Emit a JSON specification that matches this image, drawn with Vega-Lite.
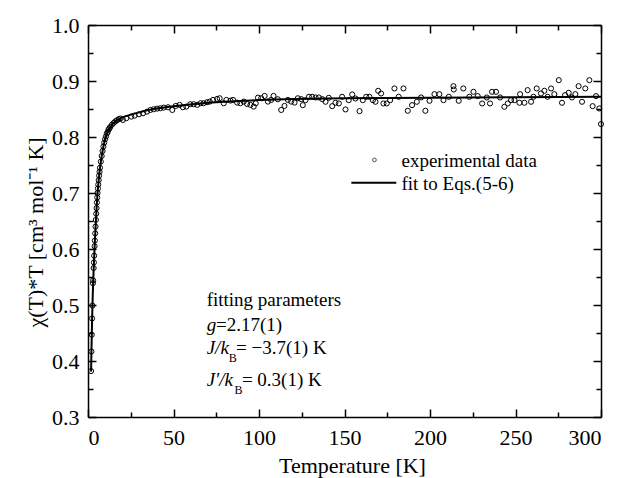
{
  "$schema": "https://vega.github.io/schema/vega-lite/v6.json",
  "width": 513,
  "height": 392,
  "autosize": {"type": "none"},
  "padding": {"left": 88, "top": 25, "right": 21, "bottom": 61},
  "background": "white",
  "config": {
    "font": "Liberation Serif",
    "view": {"stroke": null},
    "axis": {
      "grid": false,
      "domainColor": "black",
      "domainWidth": 1.5,
      "tickColor": "black",
      "tickWidth": 1.5,
      "labelFont": "Liberation Serif",
      "labelFontSize": 22,
      "labelColor": "black",
      "titleFont": "Liberation Serif",
      "titleFontSize": 22,
      "titleFontWeight": "normal",
      "titleColor": "black"
    },
    "text": {"font": "Liberation Serif", "fontSize": 19, "color": "black"}
  },
  "datasets": {
    "exp": [
      {"T":1.8,"chiT":0.382},{"T":2.0,"chiT":0.417},{"T":2.2,"chiT":0.447},{"T":2.4,"chiT":0.476},{"T":2.6,"chiT":0.499},{"T":2.9,"chiT":0.539},{"T":3.0,"chiT":0.544},{"T":3.3,"chiT":0.566},{"T":3.45,"chiT":0.576},{"T":3.6,"chiT":0.588},{"T":3.85,"chiT":0.605},{"T":4.0,"chiT":0.615},{"T":4.2,"chiT":0.628},{"T":4.4,"chiT":0.64},{"T":4.6,"chiT":0.652},{"T":4.8,"chiT":0.663},{"T":5.0,"chiT":0.673},{"T":5.2,"chiT":0.683},{"T":5.4,"chiT":0.692},{"T":5.6,"chiT":0.7},{"T":5.8,"chiT":0.708},{"T":6.0,"chiT":0.715},{"T":6.25,"chiT":0.723},{"T":6.5,"chiT":0.731},{"T":6.75,"chiT":0.738},{"T":7.0,"chiT":0.745},{"T":7.5,"chiT":0.756},{"T":8.0,"chiT":0.766},{"T":8.5,"chiT":0.775},{"T":9.0,"chiT":0.783},{"T":9.5,"chiT":0.79},{"T":10,"chiT":0.796},{"T":10.5,"chiT":0.801},{"T":11,"chiT":0.806},{"T":11.5,"chiT":0.809},{"T":12,"chiT":0.813},{"T":12.5,"chiT":0.815},{"T":13,"chiT":0.818},{"T":14,"chiT":0.822},{"T":15,"chiT":0.825},{"T":16,"chiT":0.828},{"T":17,"chiT":0.83},{"T":18,"chiT":0.832},{"T":19,"chiT":0.833},
      {"T":20.4,"chiT":0.8305},{"T":22.4,"chiT":0.8335},{"T":25.3,"chiT":0.8364},{"T":27.3,"chiT":0.8382},{"T":29.8,"chiT":0.8406},{"T":32.2,"chiT":0.8424},{"T":34.5,"chiT":0.8453},{"T":36.5,"chiT":0.8483},{"T":38.4,"chiT":0.8495},{"T":40.4,"chiT":0.8507},{"T":42.3,"chiT":0.8513},{"T":44.3,"chiT":0.8525},{"T":46.8,"chiT":0.8531},{"T":49.3,"chiT":0.8483},{"T":51.3,"chiT":0.8555},{"T":53.6,"chiT":0.8573},{"T":55.5,"chiT":0.8531},{"T":57.5,"chiT":0.8543},{"T":59.8,"chiT":0.8585},{"T":61.8,"chiT":0.8585},{"T":63.9,"chiT":0.8573},{"T":65.9,"chiT":0.8603},{"T":67.6,"chiT":0.8603},{"T":69.6,"chiT":0.8621},{"T":71.2,"chiT":0.8632},{"T":73.1,"chiT":0.8662},{"T":75.5,"chiT":0.868},{"T":77.0,"chiT":0.8692},{"T":79.4,"chiT":0.8603},{"T":80.9,"chiT":0.8662},{"T":83.3,"chiT":0.865},{"T":84.8,"chiT":0.8662},{"T":87.2,"chiT":0.8614},{"T":89.1,"chiT":0.8603},{"T":91.1,"chiT":0.8632},{"T":93.0,"chiT":0.8591},{"T":95.0,"chiT":0.8573},{"T":96.9,"chiT":0.8543},{"T":98.1,"chiT":0.8603},{"T":99.4,"chiT":0.8703},{"T":101.3,"chiT":0.8692},{"T":103.3,"chiT":0.8733},{"T":105.2,"chiT":0.8632},{"T":107.1,"chiT":0.8662},{"T":108.5,"chiT":0.8733},{"T":111.0,"chiT":0.8674},{"T":113.0,"chiT":0.8483},{"T":114.9,"chiT":0.8555},{"T":116.9,"chiT":0.8662},{"T":118.8,"chiT":0.8632},{"T":120.8,"chiT":0.8614},{"T":122.7,"chiT":0.8692},
      {"T":124.7,"chiT":0.8676},{"T":125.6,"chiT":0.8569},{"T":127.2,"chiT":0.8658},{"T":129.2,"chiT":0.8718},{"T":131.1,"chiT":0.8718},{"T":133.1,"chiT":0.8706},{"T":135.0,"chiT":0.8706},{"T":137.0,"chiT":0.8676},{"T":138.9,"chiT":0.8629},{"T":140.8,"chiT":0.87},{"T":142.8,"chiT":0.8551},{"T":144.7,"chiT":0.8611},{"T":146.7,"chiT":0.8599},{"T":148.6,"chiT":0.8718},{"T":150.6,"chiT":0.8492},{"T":152.5,"chiT":0.8658},{"T":154.5,"chiT":0.876},{"T":156.4,"chiT":0.8688},{"T":158.8,"chiT":0.8462},{"T":160.7,"chiT":0.8658},{"T":162.7,"chiT":0.8718},{"T":164.6,"chiT":0.8718},{"T":166.6,"chiT":0.8658},{"T":168.1,"chiT":0.8629},{"T":169.7,"chiT":0.8825},{"T":171.4,"chiT":0.8777},{"T":172.8,"chiT":0.8599},{"T":174.7,"chiT":0.8599},{"T":176.7,"chiT":0.8658},{"T":179.2,"chiT":0.8867},{"T":181.7,"chiT":0.8718},{"T":184.5,"chiT":0.8867},{"T":187.0,"chiT":0.8468},{"T":189.5,"chiT":0.8569},{"T":192.3,"chiT":0.8629},{"T":194.8,"chiT":0.8706},{"T":197.3,"chiT":0.8468},{"T":199.7,"chiT":0.8646},{"T":202.6,"chiT":0.8765},{"T":205.5,"chiT":0.8765},{"T":207.9,"chiT":0.8658},{"T":211.0,"chiT":0.8718},{"T":213.7,"chiT":0.8908},{"T":213.9,"chiT":0.8849},{"T":216.8,"chiT":0.8646},{"T":219.5,"chiT":0.8867},{"T":223.0,"chiT":0.8718},{"T":225.4,"chiT":0.8807},{"T":227.9,"chiT":0.873},{"T":230.5,"chiT":0.8599},{"T":233.2,"chiT":0.8706},{"T":235.1,"chiT":0.8599},{"T":236.3,"chiT":0.8807},{"T":238.6,"chiT":0.8807},{"T":241.0,"chiT":0.8706},{"T":243.5,"chiT":0.8539},{"T":245.5,"chiT":0.8599},{"T":247.4,"chiT":0.8658},{"T":249.4,"chiT":0.8658},{"T":252.3,"chiT":0.8611},{"T":252.7,"chiT":0.8765},{"T":255.2,"chiT":0.8611},{"T":257.1,"chiT":0.8837},{"T":259.1,"chiT":0.8629},{"T":260.5,"chiT":0.8718},{"T":262.4,"chiT":0.8867},{"T":264.9,"chiT":0.8777},{"T":266.9,"chiT":0.8825},{"T":268.8,"chiT":0.8718},{"T":270.8,"chiT":0.8867},{"T":272.7,"chiT":0.8765},{"T":275.3,"chiT":0.9015},{"T":277.2,"chiT":0.8611},{"T":279.0,"chiT":0.8748},{"T":281.1,"chiT":0.8789},{"T":283.0,"chiT":0.8706},{"T":285.0,"chiT":0.8765},{"T":286.9,"chiT":0.8908},{"T":288.9,"chiT":0.8629},{"T":290.8,"chiT":0.8867},{"T":293.2,"chiT":0.9015},{"T":295.1,"chiT":0.8551},{"T":297.1,"chiT":0.873},{"T":299.0,"chiT":0.851},{"T":300.0,"chiT":0.823}
    ],
    "fit": [
      {"T":1.8,"chiT":0.381},{"T":2.0,"chiT":0.415},{"T":2.2,"chiT":0.446},{"T":2.4,"chiT":0.474},{"T":2.6,"chiT":0.498},{"T":2.8,"chiT":0.52},{"T":3.0,"chiT":0.539},{"T":3.3,"chiT":0.563},{"T":3.6,"chiT":0.585},{"T":4.0,"chiT":0.612},{"T":4.5,"chiT":0.643},{"T":5.0,"chiT":0.672},{"T":5.5,"chiT":0.696},{"T":6.0,"chiT":0.715},{"T":6.5,"chiT":0.731},{"T":7.0,"chiT":0.745},{"T":8.0,"chiT":0.766},{"T":9.0,"chiT":0.783},{"T":10,"chiT":0.796},{"T":11,"chiT":0.806},{"T":12,"chiT":0.813},{"T":14,"chiT":0.822},{"T":16,"chiT":0.828},{"T":18,"chiT":0.832},{"T":20,"chiT":0.835},{"T":25,"chiT":0.84},{"T":30,"chiT":0.844},{"T":35,"chiT":0.848},{"T":40,"chiT":0.851},{"T":50,"chiT":0.855},{"T":60,"chiT":0.858},{"T":70,"chiT":0.861},{"T":80,"chiT":0.863},{"T":100,"chiT":0.866},{"T":120,"chiT":0.868},{"T":150,"chiT":0.869},{"T":200,"chiT":0.87},{"T":250,"chiT":0.871},{"T":300,"chiT":0.872}
    ],
    "textNormal": [
      {"T":69.4,"chiT":0.5093,"label":"fitting parameters"},
      {"T":74.9,"chiT":0.4647,"label":"=2.17(1)"},
      {"T":86.6,"chiT":0.4237,"label":"= −3.7(1) K"},
      {"T":90.0,"chiT":0.3666,"label":"= 0.3(1) K"},
      {"T":183.3,"chiT":0.7573,"label":"experimental data"},
      {"T":183.3,"chiT":0.7163,"label":"fit to Eqs.(5-6)"}
    ],
    "textItalic": [
      {"T":69.4,"chiT":0.4647,"label":"g"},
      {"T":69.4,"chiT":0.4237,"label":"J/k"},
      {"T":69.4,"chiT":0.3666,"label":"J′/k"}
    ],
    "textSub": [
      {"T":82.3,"chiT":0.4059,"label":"B"},
      {"T":85.6,"chiT":0.3488,"label":"B"}
    ],
    "legendSymbol": [{"T":167.5,"chiT":0.7591}],
    "legendLine": [{"T":154.0,"chiT":0.7181},{"T":180.3,"chiT":0.7181}]
  },
  "layer": [
    {
      "data": {"name": "exp"},
      "mark": {"type": "point", "shape": "circle", "filled": false, "stroke": "black", "strokeWidth": 1, "size": 26, "opacity": 1},
      "encoding": {
        "x": {
          "field": "T", "type": "quantitative",
          "scale": {"domain": [0, 300], "nice": false, "zero": false},
          "axis": {
            "orient": "bottom",
            "values": [0,25,50,75,100,125,150,175,200,225,250,275,300],
            "labelExpr": "round(datum.value/25)%2===0 ? datum.label : ''",
            "tickSize": {"condition": {"test": "round(datum.value/25)%2===0", "value": -8}, "value": -5},
            "labelPadding": 18,
            "title": "Temperature [K]",
            "titleX": 264,
            "titleY": 55,
            "titleBaseline": "alphabetic",
            "titleAlign": "center"
          }
        },
        "y": {
          "field": "chiT", "type": "quantitative",
          "scale": {"domain": [0.3, 1.0], "nice": false, "zero": false},
          "axis": {
            "orient": "left",
            "values": [0.3,0.35,0.4,0.45,0.5,0.55,0.6,0.65,0.7,0.75,0.8,0.85,0.9,0.95,1.0],
            "format": ".1f",
            "labelExpr": "round(datum.value*20)%2===0 ? datum.label : ''",
            "tickSize": {"condition": {"test": "round(datum.value*20)%2===0", "value": -8}, "value": -5},
            "labelPadding": 17,
            "title": "χ(T)*T [cm³ mol⁻¹ K]",
            "titleX": -53,
            "titleY": 207,
            "titleAngle": -90,
            "titleBaseline": "middle",
            "titleAlign": "center"
          }
        }
      }
    },
    {
      "data": {"name": "fit"},
      "mark": {"type": "line", "color": "black", "strokeWidth": 2},
      "encoding": {
        "x": {
          "field": "T", "type": "quantitative",
          "axis": {
            "orient": "top",
            "values": [0,25,50,75,100,125,150,175,200,225,250,275,300],
            "labels": false,
            "tickSize": {"condition": {"test": "round(datum.value/25)%2===0", "value": -8}, "value": -5},
            "title": null
          }
        },
        "y": {
          "field": "chiT", "type": "quantitative",
          "axis": {
            "orient": "right",
            "values": [0.3,0.35,0.4,0.45,0.5,0.55,0.6,0.65,0.7,0.75,0.8,0.85,0.9,0.95,1.0],
            "labels": false,
            "tickSize": {"condition": {"test": "round(datum.value*20)%2===0", "value": -8}, "value": -5},
            "title": null
          }
        }
      }
    },
    {
      "data": {"name": "legendSymbol"},
      "mark": {"type": "point", "shape": "circle", "filled": false, "stroke": "black", "strokeWidth": 1, "size": 14},
      "encoding": {
        "x": {"field": "T", "type": "quantitative", "axis": null},
        "y": {"field": "chiT", "type": "quantitative", "axis": null}
      }
    },
    {
      "data": {"name": "legendLine"},
      "mark": {"type": "line", "color": "black", "strokeWidth": 2},
      "encoding": {
        "x": {"field": "T", "type": "quantitative", "axis": null},
        "y": {"field": "chiT", "type": "quantitative", "axis": null}
      }
    },
    {
      "data": {"name": "textNormal"},
      "mark": {"type": "text", "align": "left", "baseline": "middle", "fontSize": 19},
      "encoding": {
        "x": {"field": "T", "type": "quantitative", "axis": null},
        "y": {"field": "chiT", "type": "quantitative", "axis": null},
        "text": {"field": "label"}
      }
    },
    {
      "data": {"name": "textItalic"},
      "mark": {"type": "text", "align": "left", "baseline": "middle", "fontSize": 19, "fontStyle": "italic"},
      "encoding": {
        "x": {"field": "T", "type": "quantitative", "axis": null},
        "y": {"field": "chiT", "type": "quantitative", "axis": null},
        "text": {"field": "label"}
      }
    },
    {
      "data": {"name": "textSub"},
      "mark": {"type": "text", "align": "left", "baseline": "middle", "fontSize": 12},
      "encoding": {
        "x": {"field": "T", "type": "quantitative", "axis": null},
        "y": {"field": "chiT", "type": "quantitative", "axis": null},
        "text": {"field": "label"}
      }
    }
  ],
  "resolve": {"axis": {"x": "independent", "y": "independent"}}
}
